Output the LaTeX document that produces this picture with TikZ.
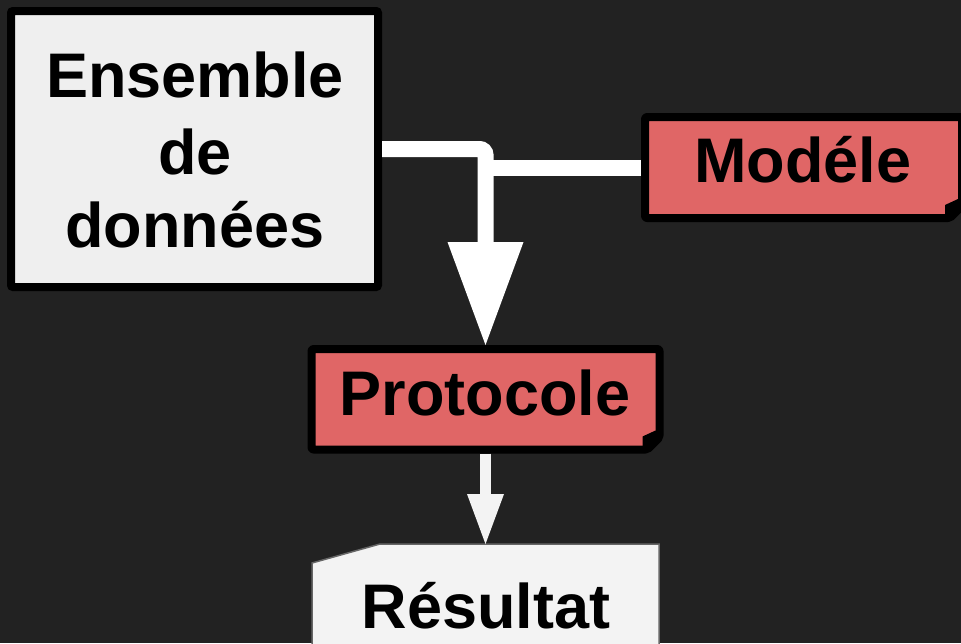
\documentclass[tikz,border=0pt]{standalone}
\usepackage{fontspec}
\setmainfont{Liberation Sans}
\usetikzlibrary{arrows.meta,calc}
\definecolor{bg}{HTML}{222222}
\definecolor{redfill}{HTML}{E06666}
\definecolor{lightfill}{HTML}{EFEFEF}
\definecolor{resfill}{HTML}{F3F3F3}
\definecolor{resline}{HTML}{666666}
\begin{document}
\begin{tikzpicture}[x=1pt,y=-1pt,
  box/.style={draw=none, inner sep=0pt, outer sep=0pt, rectangle},
  frame/.style={draw=black, line width=8pt, rounded corners=2pt, line join=round},
  lbl/.style={font=\fontsize{63}{75}\selectfont\bfseries, text=black, inner sep=0pt, anchor=base},
  flow/.style={draw=white, line width=16pt},
  smallflow/.style={draw=resfill, line width=11pt},
  foldmark/.style={fill=black}
]
\useasboundingbox[fill=bg] (0,0) rectangle (961,643);

% Ensemble de données
\node[box, minimum width=367pt, minimum height=276pt, fill=lightfill, draw=black, line width=8pt, rounded corners=2pt, outer sep=4pt] (ens) at (194.5,149) {};
\node[lbl] (ens1) at (195,97) {Ensemble};
\node[lbl] (ens2) at (195,174) {de};
\node[lbl] (ens3) at (195,247) {données};

% Modele
\node[box, minimum width=317pt, minimum height=101pt] (mod) at (803.5,167.5) {};
\draw[frame, fill=redfill] (mod.north west) -- (mod.north east) -- ([yshift=12pt]mod.south east) -- ([xshift=-12pt]mod.south east) -- (mod.south west) -- cycle;
\fill[foldmark] ([xshift=-17pt]mod.south east) -- ([xshift=-17pt,yshift=13pt]mod.south east) -- ([xshift=-4pt,yshift=19pt]mod.south east) -- ([yshift=19pt]mod.south east) -- ([yshift=12pt]mod.south east) -- ([xshift=-12pt]mod.south east) -- cycle;
\node[lbl] (modt) at (803,182) {Modéle};

% Protocole
\node[box, minimum width=348pt, minimum height=100.5pt] (proto) at (485.5,399.25) {};
\draw[frame, fill=redfill] (proto.north west) -- (proto.north east) -- ([yshift=12pt]proto.south east) -- ([xshift=-12pt]proto.south east) -- (proto.south west) -- cycle;
\fill[foldmark] ([xshift=-17pt]proto.south east) -- ([xshift=-17pt,yshift=13pt]proto.south east) -- ([xshift=-4pt,yshift=19pt]proto.south east) -- ([yshift=19pt]proto.south east) -- ([yshift=12pt]proto.south east) -- ([xshift=-12pt]proto.south east) -- cycle;
\node[lbl] (protot) at (485,415) {Protocole};

% Resultat
\node[box, minimum width=347pt, minimum height=106pt] (res) at (485.5,597) {};
\draw[draw=resline, line width=1.5pt, fill=resfill] ([yshift=-19pt]res.north west) -- ([xshift=68pt]res.north west) -- (res.north east) -- (res.south east) -- (res.south west) -- cycle;
\node[lbl] (rest) at (486,628) {Résultat};

% connectors
\draw[flow, rounded corners=6pt, -{Triangle[width=76pt,length=103pt,line width=0pt]}] (ens.east) -| ([yshift=4pt]proto.north);
\draw[flow] ([xshift=-4pt]mod.west) -- ([xshift=-4pt]mod.west -| proto.north);
\draw[smallflow, -{Triangle[width=37pt,length=50pt,line width=0pt]}] ([yshift=-4pt]proto.south) -- (res.north);
\end{tikzpicture}
\end{document}
